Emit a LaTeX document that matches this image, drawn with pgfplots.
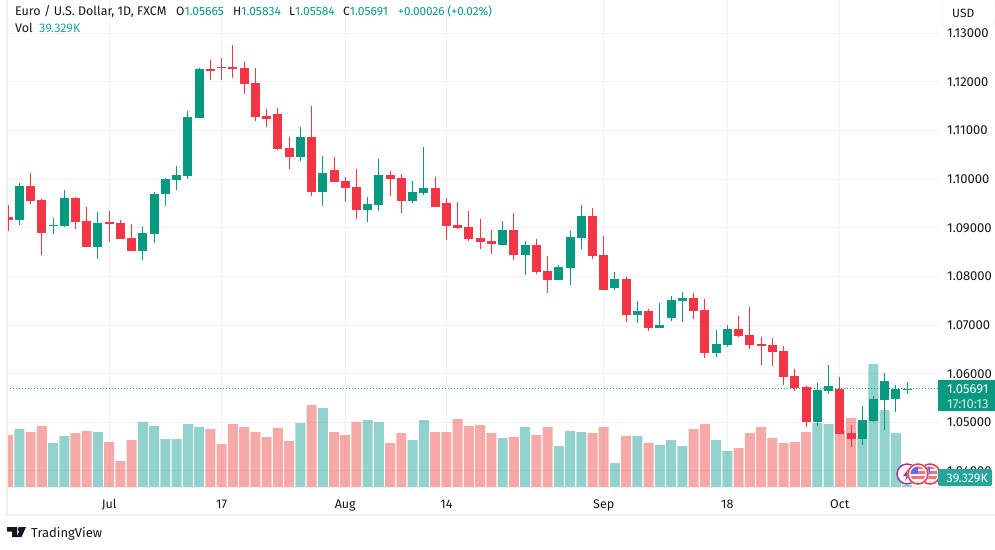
\documentclass[border=0pt]{standalone}
\usepackage{fontspec}
\setmainfont{Fira Sans}
\usepackage{pgfplots}
\usepackage{pgfplotstable}
\pgfplotsset{compat=1.18}

\definecolor{upc}{HTML}{089981}
\definecolor{downc}{HTML}{F23645}
\definecolor{volup}{HTML}{26A69A}
\definecolor{voldown}{HTML}{EF5350}
\definecolor{gridc}{HTML}{F1F1F3}
\definecolor{framec}{HTML}{EEEEF3}
\definecolor{txt}{HTML}{131722}

% day open high low close volume(K)
\pgfplotstableread{
d  o       h       l       c       v
1  1.09161 1.09922 1.09058 1.09860 991
4  1.09038 1.09202 1.08873 1.09058 753
5  1.09038 1.09778 1.09017 1.09614 872
8  1.08606 1.09326 1.08359 1.09099 940
12 1.08524 1.09017 1.08339 1.08894 1110
13 1.08873 1.09737 1.08688 1.09696 1042
14 1.09696 1.10025 1.09449 1.10004 821
15 1.09984 1.10272 1.09778 1.10086 821
16 1.10066 1.11402 1.10004 1.11279 1076
17 1.11259 1.12287 1.11259 1.12266 1025
26 1.10457 1.11073 1.10374 1.10868 1093
28 1.09737 1.10477 1.09449 1.10128 1348
32 1.09367 1.09634 1.09120 1.09490 1144
33 1.09470 1.10415 1.09346 1.10086 1110
36 1.09552 1.09963 1.09511 1.09737 804
37 1.09716 1.10662 1.09675 1.09819 1144
44 1.08647 1.09141 1.08647 1.08956 838
46 1.08441 1.08729 1.08030 1.08647 1025
49 1.07927 1.08236 1.07927 1.08195 702
50 1.08174 1.08935 1.07825 1.08812 957
51 1.08791 1.09470 1.08565 1.09243 940
54 1.07763 1.08092 1.07722 1.07948 413
56 1.07208 1.07496 1.07043 1.07290 872
58 1.06940 1.07454 1.06940 1.07002 719
59 1.07146 1.07598 1.07084 1.07516 804
60 1.07496 1.07681 1.07064 1.07557 702
63 1.06426 1.06899 1.06344 1.06611 804
64 1.06591 1.07002 1.06550 1.06920 617
72 1.05007 1.05809 1.04925 1.05665 1093
73 1.05645 1.06180 1.05583 1.05748 1076
76 1.04658 1.05336 1.04534 1.05049 1110
77 1.05028 1.05542 1.05007 1.05480 2096
78 1.05460 1.06015 1.04843 1.05851 1314
79 1.05480 1.05768 1.05213 1.05686 923
80 1.05665 1.05834 1.05584 1.05691 39.329
}\upday

\pgfplotstableread{
d  o       h       l       c       v
0  1.09223 1.09470 1.08935 1.09161 889
2  1.09860 1.10128 1.09490 1.09552 940
3  1.09572 1.09593 1.08441 1.08894 1042
6  1.09614 1.09634 1.08976 1.09120 923
7  1.09141 1.09428 1.08606 1.08606 957
9  1.09120 1.09346 1.08709 1.09079 770
10 1.09099 1.09161 1.08770 1.08770 447
11 1.08791 1.09079 1.08524 1.08524 804
18 1.12266 1.12451 1.12040 1.12225 991
19 1.12307 1.12492 1.12040 1.12287 736
20 1.12307 1.12760 1.12081 1.12266 1076
21 1.12287 1.12410 1.11752 1.11958 1025
22 1.11978 1.12287 1.11197 1.11279 940
23 1.11300 1.11444 1.11073 1.11238 855
24 1.11341 1.11464 1.10601 1.10621 1008
25 1.10642 1.10868 1.10210 1.10457 787
27 1.10868 1.11505 1.09655 1.09737 1399
29 1.10189 1.10457 1.09943 1.09943 940
30 1.09963 1.10045 1.09531 1.09819 889
31 1.09840 1.10210 1.09182 1.09367 1110
34 1.10086 1.10169 1.09655 1.10004 753
35 1.10025 1.10107 1.09305 1.09552 923
38 1.09819 1.10045 1.09428 1.09428 940
39 1.09511 1.09614 1.08750 1.09038 940
40 1.09058 1.09531 1.08976 1.08997 1161
41 1.09017 1.09346 1.08729 1.08770 1042
42 1.08791 1.09182 1.08565 1.08709 1059
43 1.08729 1.08956 1.08462 1.08668 923
45 1.08956 1.09305 1.08339 1.08441 855
47 1.08647 1.08770 1.08051 1.08092 889
48 1.08112 1.08421 1.07660 1.07927 1025
52 1.09243 1.09408 1.08359 1.08421 923
53 1.08441 1.08832 1.07722 1.07722 1025
55 1.07948 1.07989 1.07064 1.07208 872
57 1.07290 1.07331 1.06879 1.06940 753
61 1.07557 1.07660 1.07125 1.07290 991
62 1.07310 1.07537 1.06323 1.06426 1076
65 1.06920 1.07187 1.06755 1.06776 668
66 1.06796 1.07372 1.06509 1.06591 923
67 1.06611 1.06755 1.06180 1.06570 1025
68 1.06591 1.06735 1.06159 1.06447 838
69 1.06467 1.06570 1.05768 1.05933 753
70 1.05953 1.06097 1.05645 1.05707 770
71 1.05727 1.05748 1.04905 1.05007 940
74 1.05686 1.05933 1.04761 1.04761 974
75 1.04781 1.04946 1.04493 1.04658 1178
}\downday

\pgfplotsset{
  panel/.style={
    at={(7pt,61.5pt)}, anchor=south west,
    scale only axis, width=931pt, height=487.5pt,
    xmin=-0.094, xmax=82.74,
    axis line style={draw=none},
    major tick length=0pt,
  },
  wick/.style={draw=none, mark=none, forget plot,
    error bars/.cd, y dir=minus, y explicit, error mark=none,
    error bar style={line width=1pt, color=#1}},
  body/.style={draw=none, mark=none, forget plot,
    error bars/.cd, y dir=minus, y explicit, error mark=none,
    error bar style={line width=9pt, color=#1}},
}

\begin{document}
\begin{tikzpicture}
\useasboundingbox (0,0) rectangle (995pt,549pt);

% price grid and scale
\begin{axis}[panel,
  ymin=1.0366, ymax=1.13685,
  xtick={9,19,30,39,53,64,74},
  xticklabels={Jul,17,Aug,14,Sep,18,Oct},
  ytick={1.04,1.05,1.06,1.07,1.08,1.09,1.10,1.11,1.12,1.13},
  yticklabel pos=right,
  grid=major,
  grid style={gridc, line width=1pt},
  ticklabel style={text=txt, inner sep=0pt},
  yticklabel style={font=\fontsize{13}{15}\selectfont, anchor=west, xshift=9pt,
    /pgf/number format/.cd, fixed, fixed zerofill, precision=5, assume math mode=true},
  xticklabel style={font=\fontsize{12.5}{15}\selectfont, anchor=base, yshift=-21pt},
]
\addplot[upc, line width=1pt, dash pattern=on 1pt off 2pt] coordinates {(-0.094,1.05691) (82.74,1.05691)};
\end{axis}

% volume
\begin{axis}[panel, ymin=0, ymax=8287.5, xtick=\empty, ytick=\empty,
  ybar, bar width=10pt, bar shift=0pt]
\addplot[fill=volup, fill opacity=0.5, draw=none] table[x=d, y=v] {\upday};
\addplot[fill=voldown, fill opacity=0.5, draw=none] table[x=d, y=v] {\downday};
\end{axis}

% candles
\begin{axis}[panel, ymin=1.0366, ymax=1.13685, xtick=\empty, ytick=\empty]
\addplot[wick=upc] table[x=d, y=h, y error minus expr=\thisrow{h}-\thisrow{l}] {\upday};
\addplot[wick=downc] table[x=d, y=h, y error minus expr=\thisrow{h}-\thisrow{l}] {\downday};
\addplot[body=upc] table[x=d, y=c, y error minus expr=\thisrow{c}-\thisrow{o}] {\upday};
\addplot[body=downc] table[x=d, y=o, y error minus expr=\thisrow{o}-\thisrow{c}] {\downday};
\end{axis}

% everything below is placed in image pixels
\begin{scope}[x=1pt, y=-1pt, shift={(0,-549)}]
  \draw[framec, line width=2pt] (6.5,0) -- (6.5,515) -- (995,515);
  \draw[framec, line width=1pt] (7,487.5) -- (995,487.5);

  \tikzset{lab/.style={anchor=base west, inner sep=0pt, font=\fontsize{12}{14}\selectfont, text=txt}}
  \node[lab, font=\fontsize{12.5}{14}\selectfont] at (15,15.5) {Euro / U.S. Dollar, 1D, FXCM};
  \node[lab] at (176,15.5) {O\textcolor{upc}{1.05665}};
  \node[lab] at (233,15.5) {H\textcolor{upc}{1.05834}};
  \node[lab] at (289,15.5) {L\textcolor{upc}{1.05584}};
  \node[lab] at (343,15.5) {C\textcolor{upc}{1.05691}};
  \node[lab, text=upc, font=\fontsize{11.7}{14}\selectfont] at (398,15.5) {+0.00026 (+0.02\%)};
  \node[lab, font=\fontsize{12.5}{14}\selectfont] at (15,32.5) {Vol};
  \node[lab, text=volup, font=\fontsize{12.5}{14}\selectfont] at (39,32.5) {39.329K};

  \draw[black!12, fill=white, rounded corners=4pt] (942,-3) rectangle (994,26);
  \node[lab] at (952,17.5) {USD};

  \fill[upc] (938,380) rectangle (995,411);
  \node[lab, text=white, font=\fontsize{13}{15}\selectfont] at (947,393.3) {1.05691};
  \node[lab, text=white!80!upc, font=\fontsize{13}{15}\selectfont] at (947,408) {17:10:13};

  % calendar icons
  \foreach \cx in {930, 918} {
    \fill[white] (\cx,474) circle (11);
    \draw[downc, line width=1.5pt] (\cx,474) circle (10);
    \begin{scope}
      \clip (\cx,474) circle (7.5);
      \fill[downc!70] (\cx-9,465) rectangle (\cx+9,483);
      \fill[white] (\cx-9,469) rectangle (\cx+9,471);
      \fill[white] (\cx-9,474) rectangle (\cx+9,476);
      \fill[white] (\cx-9,479) rectangle (\cx+9,481);
      \fill[blue!60] (\cx-9,465) rectangle (\cx,474);
    \end{scope}
    \ifnum\cx=930
      \fill[white] (907,474) circle (10.5);
      \draw[violet!80, line width=1.5pt] (907,474) circle (10);
      \fill[violet!80] (909,468) -- (903,476) -- (906.5,476) -- (905,481) -- (911,473) -- (907.5,473) -- cycle;
    \fi
  }
  \fill[volup, rounded corners=1.5pt] (938,469) rectangle (992,486);
  \node[lab, text=white, font=\fontsize{12.5}{14}\selectfont] at (946.5,482) {39.329K};

  % logo
  \fill[txt] (7,527) -- (17,527) -- (17,537) -- (12,537) -- (12,531.5) -- (7,531.5) -- cycle;
  \fill[txt] (19.7,529.2) circle (2.2);
  \fill[txt] (21,527) -- (26,527) -- (21.5,537) -- (16.5,537) -- cycle;
  \node[lab, font=\fontsize{13}{15}\selectfont] at (31,537) {TradingView};
\end{scope}
\end{tikzpicture}
\end{document}
